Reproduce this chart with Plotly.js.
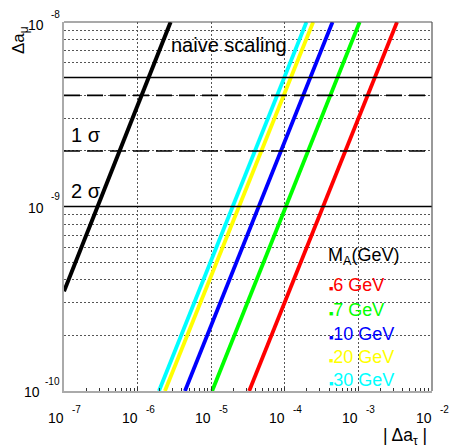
<!DOCTYPE html>
<html>
<head>
<meta charset="utf-8">
<script src="https://cdn.plot.ly/plotly-3.0.1.min.js"></script>
<style>html,body{margin:0;padding:0;background:#fff;}#chart{width:449px;height:447px;}</style>
</head>
<body>
<div id="chart"></div>
<script>
// ---- data ----
const massLabels = ["6 GeV", "7 GeV", "10 GeV", "20 GeV", "30 GeV"];
const massColors = ["#ff0000", "#00ff00", "#0000ff", "#ffff00", "#00ffff"];
// |Δa_τ| where each line reaches Δa_μ = 1e-10 and Δa_μ = 1e-8
const amuEnds = [1e-10, 1e-8];
const tauAtLow  = [3.28e-5, 1.03e-5, 4.40e-6, 2.35e-6, 1.95e-6];
const tauAtHigh = [3.35e-3, 1.04e-3, 4.45e-4, 2.43e-4, 1.97e-4];
// naive scaling line
const naiveTau = [1e-7, 2.81e-6];
const naiveMu  = [3.47e-10, 1e-8];
// sigma band limits (Δa_μ)
const bandSolid  = [1e-9, 5e-9];
const bandDashed = [2e-9, 4e-9];
const xEnds = [1e-7, 1e-2];
// tick labels (mantissa + exponent, drawn ROOT-style)
const xTickVals = [1e-7, 1e-6, 1e-5, 1e-4, 1e-3, 1e-2];
const xTickExp  = ["-7", "-6", "-5", "-4", "-3", "-2"];
const yTickVals = [1e-10, 1e-9, 1e-8];
const yTickExp  = ["-10", "-9", "-8"];
const minorMult = [2, 3, 4, 5, 6, 7, 8, 9];

const xMinor = [];
xTickVals.slice(0, -1).forEach(d => minorMult.forEach(m => xMinor.push(d * m)));
const yMinor = [];
yTickVals.slice(0, -1).forEach(d => minorMult.forEach(m => yMinor.push(d * m)));

const traces = [];
massLabels.forEach((lab, i) => {
  traces.push({
    x: [tauAtLow[i], tauAtHigh[i]], y: amuEnds, mode: 'lines', name: lab,
    line: {color: massColors[i], width: 3.8}, hoverinfo: 'skip', showlegend: false
  });
});
traces.push({x: naiveTau, y: naiveMu, mode: 'lines', line: {color: '#000', width: 4}, showlegend: false, hoverinfo: 'skip'});
bandSolid.forEach(v => traces.push({x: xEnds, y: [v, v], mode: 'lines', line: {color: '#000', width: 1.6}, showlegend: false, hoverinfo: 'skip'}));
bandDashed.forEach(v => traces.push({x: xEnds, y: [v, v], mode: 'lines', line: {color: '#000', width: 1.6, dash: '16px,7px'}, showlegend: false, hoverinfo: 'skip'}));

const F = 'Liberation Sans, Arial, Helvetica, sans-serif';
const px = X => (X - 64) / 368;
const py = Y => (391 - Y) / 369;

const annotations = [
  {text: 'naive scaling', x: px(169), y: py(45), font: {size: 20}},
  {text: '1 σ', x: px(69), y: py(135), font: {size: 20}},
  {text: '2 σ', x: px(69), y: py(191), font: {size: 20}},
  {text: 'M<sub>A</sub>(GeV)', x: px(326), y: py(256), font: {size: 18}},
  {text: '| Δa<sub>τ</sub> |', x: px(381), y: py(436), font: {size: 17.5}},
  {text: 'Δa<sub>μ</sub>', x: px(7), y: py(56), textangle: -90, xanchor: 'left', yanchor: 'bottom', font: {size: 17}}
];
// x tick labels
xTickVals.forEach((v, i) => {
  annotations.push({text: '10', xref: 'x', x: Math.log10(v), xanchor: 'right', xshift: 2, y: py(417.5), font: {size: 14}});
  annotations.push({text: xTickExp[i], xref: 'x', x: Math.log10(v), xanchor: 'left', xshift: 6, y: py(409.5), font: {size: 10}});
});
// y tick labels
yTickVals.forEach((v, i) => {
  const extra = (yTickExp[i].length - 2) * 4.5;
  const down = (i === yTickVals.length - 1) ? -3 : -1;
  annotations.push({text: '10', x: px(46 - extra), xanchor: 'right', yref: 'y', y: Math.log10(v), yshift: down, font: {size: 14}});
  annotations.push({text: yTickExp[i], x: px(62), xanchor: 'right', yref: 'y', y: Math.log10(v), yshift: 10 + down + 1, font: {size: 10}});
});
const legendY = [285, 310, 334, 357, 380];
massLabels.forEach((lab, i) => {
  annotations.push({text: "<span style='font-size:7px'>■</span>" + lab, x: px(327), y: py(legendY[i]), font: {size: 18, color: massColors[i]}});
});
annotations.forEach(a => {
  if (!a.xref) a.xref = 'paper';
  if (!a.yref) a.yref = 'paper';
  a.showarrow = false;
  if (!a.xanchor) a.xanchor = 'left';
  if (!a.yanchor) a.yanchor = 'middle';
  a.font = Object.assign({family: F, color: '#000'}, a.font);
});

const layout = {
  width: 449, height: 447,
  margin: {l: 64, r: 17, t: 22, b: 56},
  paper_bgcolor: '#fff', plot_bgcolor: '#fff',
  font: {family: F, color: '#000', size: 13},
  showlegend: false,
  xaxis: {
    type: 'log', range: [-7, -2], tickmode: 'array', tickvals: xTickVals, showticklabels: false,
    ticks: 'inside', ticklen: 4, tickcolor: '#333',
    showgrid: true, gridcolor: '#555', griddash: '2px,2px', gridwidth: 1,
    showline: true, linecolor: '#aaa', linewidth: 2, zeroline: false,
    minor: {tickmode: 'array', tickvals: xMinor, ticks: 'inside', ticklen: 3, tickcolor: '#333', showgrid: false}
  },
  yaxis: {
    type: 'log', range: [-10, -8], tickmode: 'array', tickvals: yTickVals, showticklabels: false,
    ticks: '',
    showgrid: true, gridcolor: '#555', griddash: '2px,2px', gridwidth: 1,
    showline: true, linecolor: '#aaa', linewidth: 2, zeroline: false,
    minor: {tickmode: 'array', tickvals: yMinor, ticks: '', showgrid: true, gridcolor: '#555', griddash: '2px,2px', gridwidth: 1}
  },
  shapes: [
    {type: 'line', xref: 'paper', yref: 'paper', x0: 0, x1: 1, y0: 1, y1: 1, line: {color: '#555', width: 1.2}},
    {type: 'line', xref: 'paper', yref: 'paper', x0: 1, x1: 1, y0: 0, y1: 1, line: {color: '#555', width: 1.2}}
  ],
  annotations: annotations
};

Plotly.newPlot('chart', traces, layout, {staticPlot: true, displayModeBar: false});
</script>
</body>
</html>
